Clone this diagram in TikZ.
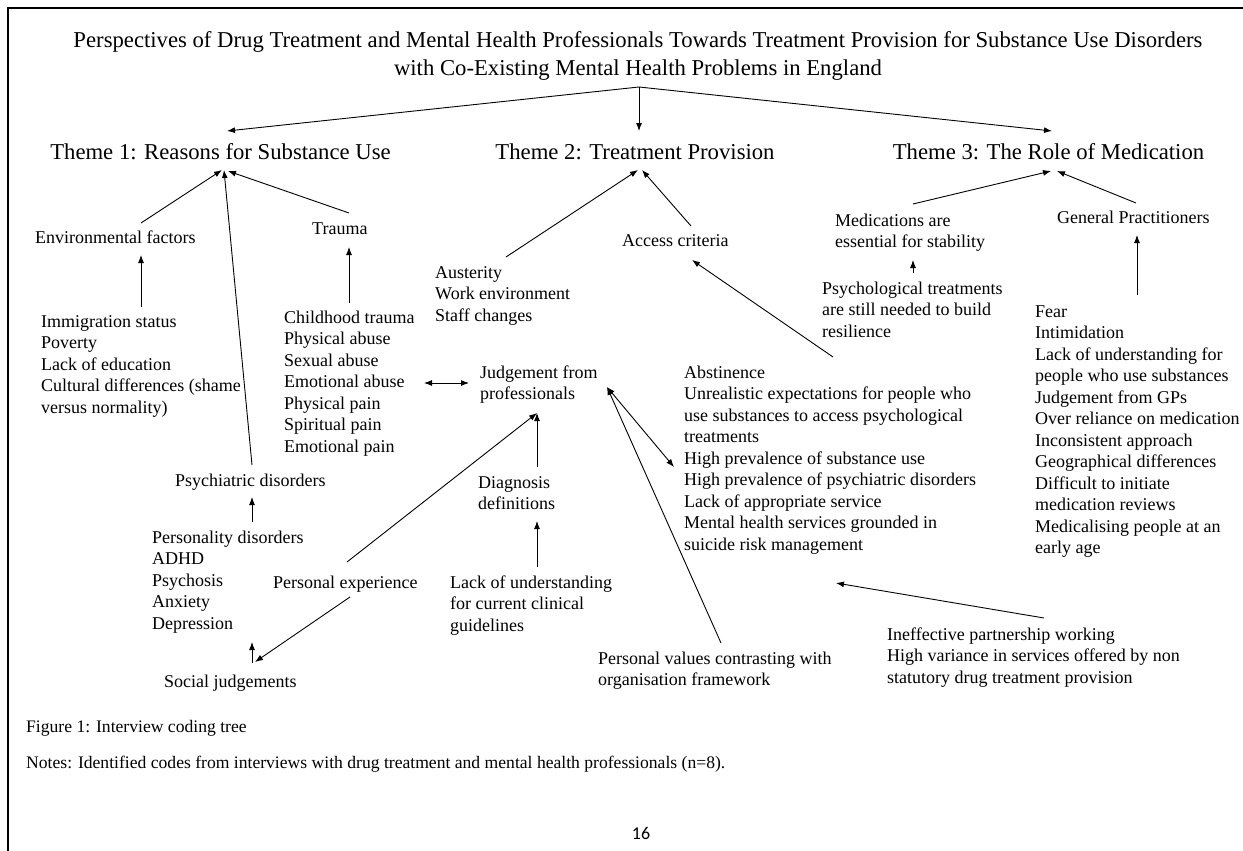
\documentclass[tikz,border=0pt]{standalone}
\usepackage{fontspec}
\setmainfont{Liberation Serif}
\newfontfamily\pagefont{Carlito}
\usetikzlibrary{arrows.meta}
\tikzset{
  txt/.style={anchor=north west, inner sep=0pt, align=left, font=\fontsize{18}{21.5}\selectfont},
  captxt/.style={anchor=north west, inner sep=0pt, align=left, font=\fontsize{17.6}{21.5}\selectfont},
  themetxt/.style={anchor=base, inner sep=0pt, font=\fontsize{22.7}{28}\selectfont},
  arr/.style={-{Latex[length=8pt,width=6pt]}, line width=0.9pt},
  darr/.style={{Latex[length=8pt,width=6pt]}-{Latex[length=8pt,width=6pt]}, line width=0.9pt},
  frame/.style={line width=2.5pt}
}
\begin{document}
\begin{tikzpicture}[x=1pt,y=-1pt]
\useasboundingbox (0,0) rectangle (1243,851);
% frame
\coordinate (fl) at (8,8);
\coordinate (fr) at (1243,8);
\coordinate (fb) at (8,851);
\draw[frame] (fr) -- (fl) -- (fb);

% title and themes
\node[anchor=north, inner sep=0pt, align=center, font=\fontsize{22.7}{28}\selectfont] (title) at (638,27.4)
  {\strut Perspectives of Drug Treatment and Mental Health Professionals Towards Treatment Provision for Substance Use Disorders\\
   with Co-Existing Mental Health Problems in England};
\node[themetxt] (th1) at (220.5,159) {Theme 1: Reasons for Substance Use};
\node[themetxt] (th2) at (635,159) {Theme 2: Treatment Provision};
\node[themetxt] (th3) at (1048.5,159) {Theme 3: The Role of Medication};

% theme 1 branch
\node[txt] (env) at (35,228) {\strut Environmental factors};
\node[txt] (trauma) at (312,219) {\strut Trauma};
\node[txt] (envlist) at (41,312) {\strut Immigration status\\Poverty\\Lack of education\\Cultural differences (shame\\versus normality)};
\node[txt] (traumalist) at (284,308) {\strut Childhood trauma\\Physical abuse\\Sexual abuse\\Emotional abuse\\Physical pain\\Spiritual pain\\Emotional pain};
\node[txt] (psych) at (175,471) {\strut Psychiatric disorders};
\node[txt] (psychlist) at (152,528) {\strut Personality disorders\\ADHD\\Psychosis\\Anxiety\\Depression};
\node[txt] (persexp) at (273,573) {\strut Personal experience};
\node[txt] (social) at (164,672) {\strut Social judgements};

% theme 2 branch
\node[txt] (aust) at (435,263) {\strut Austerity\\Work environment\\Staff changes};
\node[txt] (access) at (622,231) {\strut Access criteria};
\node[txt] (judge) at (480,363) {\strut Judgement from\\professionals};
\node[txt] (diag) at (478,473) {\strut Diagnosis\\definitions};
\node[txt] (lackund) at (450,573) {\strut Lack of understanding\\for current clinical\\guidelines};
\node[txt] (persval) at (598,649) {\strut Personal values contrasting with\\organisation framework};
\node[txt] (acclist) at (684,363) {\strut Abstinence\\Unrealistic expectations for people who\\use substances to access psychological\\treatments\\High prevalence of substance use\\High prevalence of psychiatric disorders\\Lack of appropriate service\\Mental health services grounded in\\suicide risk management};
\node[txt] (partner) at (887,625) {\strut Ineffective partnership working\\High variance in services offered by non\\statutory drug treatment provision};

% theme 3 branch
\node[txt] (meds) at (835,211) {\strut Medications are\\essential for stability};
\node[txt] (psytreat) at (822,279) {\strut Psychological treatments\\are still needed to build\\resilience};
\node[txt] (gp) at (1057,208) {\strut General Practitioners};
\node[txt] (gplist) at (1035,302) {\strut Fear\\Intimidation\\Lack of understanding for\\people who use substances\\Judgement from GPs\\Over reliance on medication\\Inconsistent approach\\Geographical differences\\Difficult to initiate\\medication reviews\\Medicalising people at an\\early age};

% captions
\node[captxt] (fig) at (26,717) {\strut Figure 1: Interview coding tree};
\node[captxt] (notes) at (26,753) {\strut Notes: Identified codes from interviews with drug treatment and mental health professionals (n=8).};
\node[inner sep=0pt, font=\pagefont\fontsize{18}{20}\selectfont] (page) at (641,833) {16};

% connector end points
\coordinate (split) at (639,87);
\coordinate (t1top) at (227,131);
\coordinate (t2top) at (639,131);
\coordinate (t3top) at (1052,131);
\coordinate (t1a) at (222,170);
\coordinate (t1b) at (224,170);
\coordinate (t1c) at (228,171);
\coordinate (t2a) at (638,170);
\coordinate (t2b) at (642,170);
\coordinate (t3a) at (1051,171);
\coordinate (t3b) at (1057,171);
\coordinate (envup) at (141,223);
\coordinate (envdn) at (141,255);
\coordinate (envlistup) at (141,307);
\coordinate (traumaup) at (349,213);
\coordinate (traumadn) at (349,247);
\coordinate (traumalistup) at (349,303);
\coordinate (psychup) at (252,465);
\coordinate (psychdn) at (252,497);
\coordinate (psychlistup) at (252,522);
\coordinate (austup) at (506,257);
\coordinate (accessup) at (691,226);
\coordinate (accessdn) at (692,260);
\coordinate (acclistup) at (833,357);
\coordinate (medsup) at (913,204);
\coordinate (medsdn) at (913,260);
\coordinate (psytreatup) at (913,273);
\coordinate (gpup) at (1136,203);
\coordinate (gpdn) at (1137,235);
\coordinate (gplistup) at (1137,295);
\coordinate (traumaR) at (424,383);
\coordinate (judgeL) at (469,383);
\coordinate (judgeR) at (607,387);
\coordinate (acclistL) at (674,467);
\coordinate (persvalup) at (721,643);
\coordinate (judgeB) at (537,413);
\coordinate (diagup) at (537,467);
\coordinate (diagdn) at (537,521);
\coordinate (lackundup) at (537,567);
\coordinate (persexpup) at (347,562);
\coordinate (persexpdn) at (350,597);
\coordinate (socialup) at (255,662);
\coordinate (socialL) at (252,663);
\coordinate (psychlistdn) at (252,642);
\coordinate (partnerup) at (1044,618);
\coordinate (acclistdn) at (836,583);

% connectors
\draw[arr] (split) -- (t1top);
\draw[arr] (split) -- (t2top);
\draw[arr] (split) -- (t3top);
\draw[arr] (envup) -- (t1a);
\draw[arr] (psychup) -- (t1b);
\draw[arr] (traumaup) -- (t1c);
\draw[arr] (envlistup) -- (envdn);
\draw[arr] (traumalistup) -- (traumadn);
\draw[arr] (psychlistup) -- (psychdn);
\draw[arr] (austup) -- (t2a);
\draw[arr] (accessup) -- (t2b);
\draw[arr] (acclistup) -- (accessdn);
\draw[arr] (medsup) -- (t3a);
\draw[arr] (gpup) -- (t3b);
\draw[arr] (psytreatup) -- (medsdn);
\draw[arr] (gplistup) -- (gpdn);
\draw[darr] (traumaR) -- (judgeL);
\draw[darr] (judgeR) -- (acclistL);
\draw[arr] (persvalup) -- (judgeR);
\draw[arr] (diagup) -- (judgeB);
\draw[arr] (persexpup) -- (judgeB);
\draw[arr] (lackundup) -- (diagdn);
\draw[arr] (persexpdn) -- (socialup);
\draw[arr] (socialL) -- (psychlistdn);
\draw[arr] (partnerup) -- (acclistdn);
\end{tikzpicture}
\end{document}
